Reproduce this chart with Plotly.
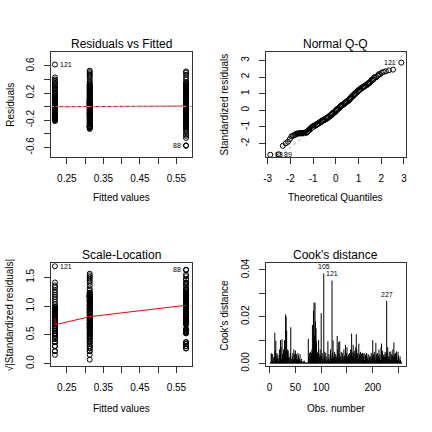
import math
from statistics import NormalDist
import plotly.graph_objects as go

# ---------------- data ----------------
fitted_levels = [0.2174, 0.3126, 0.5763]

resid_A = [-0.21, -0.21, -0.20, -0.20, -0.19, -0.19, -0.18, -0.18, -0.17, -0.17,
           -0.16, -0.16, -0.15, -0.15, -0.14, -0.14, -0.13, -0.13, -0.12, -0.12,
           -0.11, -0.11, -0.10, -0.10, -0.09, -0.09, -0.08, -0.08, -0.07, -0.07,
           -0.06, -0.06, -0.05, -0.05, -0.04, -0.04, -0.03, -0.03, -0.02, -0.01,
           0.005, 0.01, 0.02, 0.03, 0.04, 0.05, 0.06, 0.07, 0.08, 0.09,
           0.10, 0.11, 0.12, 0.13, 0.15, 0.16, 0.18, 0.19, 0.21, 0.23,
           0.25, 0.27, 0.29, 0.31, 0.33, 0.35, 0.38, 0.40, 0.43, 0.62]

resid_B = [-0.33, -0.32, -0.305, -0.30, -0.30, -0.30, -0.30, -0.295, -0.295, -0.29,
           -0.29, -0.29, -0.285, -0.27, -0.26, -0.25, -0.24, -0.23, -0.22, -0.21,
           -0.20, -0.19, -0.18, -0.17, -0.16, -0.15, -0.14, -0.135, -0.13, -0.125,
           -0.12, -0.11, -0.105, -0.10, -0.09, -0.085, -0.08, -0.07, -0.06, -0.05,
           -0.045, -0.04, -0.03, -0.02, -0.015, -0.01, 0.001, 0.005, 0.01, 0.015,
           0.02, 0.025, 0.03, 0.035, 0.04, 0.045, 0.05, 0.055, 0.06, 0.065,
           0.07, 0.075, 0.08, 0.085, 0.09, 0.095, 0.10, 0.105, 0.11, 0.12,
           0.13, 0.14, 0.15, 0.16, 0.17, 0.18, 0.19, 0.20, 0.21, 0.22,
           0.23, 0.24, 0.25, 0.26, 0.27, 0.28, 0.29, 0.30, 0.31, 0.32,
           0.33, 0.35, 0.37, 0.40, 0.43, 0.45, 0.47, 0.49, 0.51, 0.53]

resid_C = [-0.578, -0.572, -0.462, -0.43, -0.41, -0.375, -0.34, -0.325, -0.305, -0.30,
           -0.30, -0.295, -0.29, -0.29, -0.27, -0.26, -0.25, -0.24, -0.23, -0.22,
           -0.21, -0.20, -0.19, -0.18, -0.17, -0.16, -0.15, -0.14, -0.13, -0.125,
           -0.12, -0.115, -0.11, -0.105, -0.10, -0.075, -0.07, -0.065, -0.06, -0.03,
           -0.025, -0.02, -0.015, 0.015, 0.02, 0.025, 0.03, 0.06, 0.065, 0.07,
           0.075, 0.08, 0.10, 0.105, 0.11, 0.115, 0.12, 0.125, 0.13, 0.14,
           0.15, 0.16, 0.17, 0.18, 0.19, 0.20, 0.21, 0.22, 0.23, 0.24,
           0.25, 0.26, 0.27, 0.28, 0.29, 0.30, 0.31, 0.32, 0.33, 0.36,
           0.40, 0.43, 0.47, 0.50, 0.52, 0.35]

resid_se = 0.218

cooks_d = [0.0003, 0.0008, 0.0042, 0.0043, 0.0012, 0.0040, 0.0025, 0.0009, 0.0030, 0.0131,
           0.0055, 0.0098, 0.0030, 0.0045, 0.0020, 0.0038, 0.0010, 0.0025, 0.0060, 0.0035,
           0.0100, 0.0070, 0.0020, 0.0104, 0.0040, 0.0015, 0.0060, 0.0030, 0.0100, 0.0045,
           0.0210, 0.0200, 0.0140, 0.0050, 0.0060, 0.0055, 0.0030, 0.0010, 0.0025, 0.0045,
           0.0155, 0.0020, 0.0010, 0.0030, 0.0045, 0.0015, 0.0060, 0.0040, 0.0020, 0.0055,
           0.0010, 0.0040, 0.0025, 0.0015, 0.0045, 0.0035, 0.0008, 0.0020, 0.0040, 0.0012,
           0.0010, 0.0020, 0.0008, 0.0006, 0.0010, 0.0004, 0.0012, 0.0007, 0.0003, 0.0005,
           0.0002, 0.0004, 0.0003, 0.0006, 0.0105, 0.0030, 0.0045, 0.0020, 0.0050, 0.0035,
           0.0045, 0.0060, 0.0165, 0.0050, 0.0225, 0.0260, 0.0120, 0.0260, 0.0180, 0.0150,
           0.0095, 0.0050, 0.0045, 0.0030, 0.0100, 0.0040, 0.0025, 0.0060, 0.0035, 0.0215,
           0.0030, 0.0045, 0.0020, 0.0010, 0.0385, 0.0030, 0.0050, 0.0020, 0.0045, 0.0010,
           0.0030, 0.0015, 0.0095, 0.0020, 0.0040, 0.0010, 0.0025, 0.0060, 0.0035, 0.0020,
           0.0355, 0.0045, 0.0098, 0.0025, 0.0030, 0.0050, 0.0020, 0.0040, 0.0015, 0.0030,
           0.0118, 0.0060, 0.0025, 0.0092, 0.0040, 0.0095, 0.0030, 0.0020, 0.0050, 0.0015,
           0.0045, 0.0030, 0.0020, 0.0060, 0.0035, 0.0010, 0.0080, 0.0025, 0.0045, 0.0070,
           0.0030, 0.0015, 0.0040, 0.0025, 0.0045, 0.0020, 0.0060, 0.0035, 0.0128, 0.0050,
           0.0030, 0.0080, 0.0045, 0.0020, 0.0055, 0.0040, 0.0070, 0.0125, 0.0060, 0.0035,
           0.0045, 0.0020, 0.0085, 0.0040, 0.0030, 0.0050, 0.0025, 0.0042, 0.0020, 0.0045,
           0.0040, 0.0030, 0.0045, 0.0015, 0.0040, 0.0035, 0.0025, 0.0045, 0.0030, 0.0020,
           0.0040, 0.0015, 0.0035, 0.0025, 0.0010, 0.0030, 0.0045, 0.0020, 0.0035, 0.0100,
           0.0040, 0.0025, 0.0050, 0.0030, 0.0015, 0.0088, 0.0040, 0.0025, 0.0045, 0.0020,
           0.0035, 0.0060, 0.0025, 0.0040, 0.0015, 0.0070, 0.0085, 0.0030, 0.0055, 0.0020,
           0.0035, 0.0040, 0.0025, 0.0050, 0.0030, 0.0045, 0.0268, 0.0040, 0.0070, 0.0030,
           0.0020, 0.0050, 0.0030, 0.0015, 0.0052, 0.0040, 0.0020, 0.0035, 0.0060, 0.0030,
           0.0090, 0.0040, 0.0020, 0.0045, 0.0030, 0.0052, 0.0025, 0.0015, 0.0050, 0.0035,
           0.0020, 0.0010, 0.0030, 0.0015, 0.0008, 0.0004]

label_top = "121"          # largest residual (group A)
labels_low = ["88", "89"]  # two most negative residuals (group C)
cook_ids = [105, 121, 227]

smooth_rvf_y = [-0.002, 0.0, 0.008]          # lowess line, Residuals vs Fitted
smooth_sl_idx = [0, 0, 1, 2]                 # lowess line, Scale-Location
smooth_sl_y = [0.786, 0.674, 0.815, 1.013]
qq_slope, qq_intercept = 1.12, 0.0

# ---------------- derived quantities ----------------
groups = [resid_A, resid_B, resid_C]
fitted_all, resid_all, std_all = [], [], []
for lev, g in zip(fitted_levels, groups):
    h = 1.0 / len(g)
    for r in g:
        fitted_all.append(lev)
        resid_all.append(r)
        std_all.append(r / (resid_se * math.sqrt(1 - h)))
sl_all = [math.sqrt(abs(s)) for s in std_all]
N = len(std_all)
nd = NormalDist()
std_sorted = sorted(std_all)
theo = [nd.inv_cdf((i + 0.5) / N) for i in range(N)]

FONT = "Liberation Sans, Arial, Helvetica, sans-serif"
W = H = 432

def px(x):
    return x / W

def py(y):
    return 1 - y / H

L1, R1 = 49.3, 191.3
L2, R2 = 265.5, 407.0
T1, B1 = 48.0, 155.7
T2, B2 = 264.3, 370.0

fig = go.Figure()
mk = dict(symbol="circle-open", size=5, color="black", line=dict(width=1, color="black"))

# Panel 1
fig.add_trace(go.Scatter(x=fitted_all, y=resid_all, mode="markers", marker=mk,
                         xaxis="x", yaxis="y", hoverinfo="skip"))
fig.add_trace(go.Scatter(x=fitted_levels, y=smooth_rvf_y, mode="lines",
                         line=dict(color="red", width=1), xaxis="x", yaxis="y"))
fig.add_trace(go.Scatter(x=[0.2065, 0.5925], y=[0, 0], mode="lines",
                         line=dict(color="#aaaaaa", width=1, dash="dot"), xaxis="x", yaxis="y"))

# Panel 2
fig.add_trace(go.Scatter(x=theo, y=std_sorted, mode="markers", marker=mk,
                         xaxis="x2", yaxis="y2"))
qx = [-3.09, 3.10]
fig.add_trace(go.Scatter(x=qx, y=[qq_intercept + qq_slope * v for v in qx], mode="lines",
                         line=dict(color="#aaaaaa", width=1, dash="dot"), xaxis="x2", yaxis="y2"))

# Panel 3
fig.add_trace(go.Scatter(x=fitted_all, y=sl_all, mode="markers", marker=mk,
                         xaxis="x3", yaxis="y3"))
fig.add_trace(go.Scatter(x=[fitted_levels[i] for i in smooth_sl_idx], y=smooth_sl_y, mode="lines",
                         line=dict(color="red", width=1), xaxis="x3", yaxis="y3"))

# Panel 4
cx, cy = [], []
for i, d in enumerate(cooks_d):
    cx += [i + 1, i + 1, None]
    cy += [0, d, None]
fig.add_trace(go.Scatter(x=cx, y=cy, mode="lines", line=dict(color="black", width=1),
                         xaxis="x4", yaxis="y4"))

def ax(domain, rng, tickvals, ticktext, anchor, ytype=False):
    d = dict(domain=domain, range=rng, tickvals=tickvals, ticktext=ticktext,
             anchor=anchor, showline=True, linecolor="#333333", linewidth=1, mirror=True,
             ticks="outside", ticklen=6, tickcolor="#333333", tickwidth=1,
             showgrid=False, zeroline=False,
             tickfont=dict(family=FONT, size=10, color="black"), ticklabelstandoff=6)
    if ytype:
        d["tickangle"] = -90
    return d

xd1 = [px(L1), px(R1)]
xd2 = [px(L2), px(R2)]
yd1 = [py(B1), py(T1)]
yd2 = [py(B2), py(T2)]

fx_vals = [0.25, 0.30, 0.35, 0.40, 0.45, 0.50, 0.55]
fx_text = ["0.25", "", "0.35", "", "0.45", "", "0.55"]

fig.update_layout(
    width=W, height=H, margin=dict(l=0, r=0, t=0, b=0),
    paper_bgcolor="white", plot_bgcolor="white", showlegend=False,
    font=dict(family=FONT, color="black"),
    xaxis=ax(xd1, [0.2065, 0.5925], fx_vals, fx_text, "y"),
    yaxis=ax(yd1, [-0.745, 0.807], [-0.6, -0.4, -0.2, 0, 0.2, 0.4, 0.6],
             ["-0.6", "", "-0.2", "", "0.2", "", "0.6"], "x", True),
    xaxis2=ax(xd2, [-3.09, 3.10], [-3, -2, -1, 0, 1, 2, 3],
              ["-3", "-2", "-1", "0", "1", "2", "3"], "y2"),
    yaxis2=ax(yd1, [-2.81, 3.51], [-2, -1, 0, 1, 2, 3],
              ["-2", "-1", "0", "1", "2", "3"], "x2", True),
    xaxis3=ax(xd1, [0.2065, 0.5925], fx_vals, fx_text, "y3"),
    yaxis3=ax(yd2, [-0.05, 1.745], [0, 0.5, 1.0, 1.5], ["0.0", "0.5", "1.0", "1.5"], "x3", True),
    xaxis4=ax(xd2, [-7.7, 264.8], [0, 50, 100, 150, 200, 250],
              ["0", "50", "100", "", "200", ""], "y4"),
    yaxis4=ax(yd2, [-0.00125, 0.0429], [0, 0.01, 0.02, 0.03, 0.04],
              ["0.00", "", "0.02", "", "0.04"], "x4", True),
)

ann = []
def txt(x, y, s, size=12, angle=0):
    ann.append(dict(x=px(x), y=py(y), xref="paper", yref="paper", text=s, showarrow=False,
                    xanchor="center", yanchor="middle", textangle=angle,
                    font=dict(family=FONT, size=size, color="black")))

c1 = (L1 + R1) / 2
c2 = (L2 + R2) / 2
txt(c1, 40, "Residuals vs Fitted")
txt(c2, 40, "Normal Q-Q")
txt(c1, 256, "Scale-Location")
txt(c2, 256, "Cook's distance")
txt(c1, 196.7, "Fitted values", 10)
txt(c2, 196.7, "Theoretical Quantiles", 10)
txt(c1, 412.7, "Fitted values", 10)
txt(c2, 412.7, "Obs. number", 10)
txt(8.3, (T1 + B1) / 2, "Residuals", 10, -90)
txt(224.5, (T1 + B1) / 2, "Standardized residuals", 10, -90)
txt(7.5, (T2 + B2) / 2, "√|Standardized residuals|", 10, -90)
txt(224.5, (T2 + B2) / 2, "Cook's distance", 10, -90)

def lab(xr, yr, x, y, s, anchor, xshift=0, yshift=0, yanchor="middle"):
    ann.append(dict(x=x, y=y, xref=xr, yref=yr, text=s, showarrow=False,
                    xanchor=anchor, yanchor=yanchor, xshift=xshift, yshift=yshift,
                    font=dict(family=FONT, size=7, color="black")))

# point labels
iA_top = max(range(len(resid_A)), key=lambda i: resid_A[i])
iC_low = sorted(range(len(resid_C)), key=lambda i: resid_C[i])[:2]
offA = 0
offC = len(resid_A) + len(resid_B)
lab("x", "y", fitted_levels[0], resid_A[iA_top], label_top, "left", 3)
lab("x", "y", fitted_levels[2], resid_C[iC_low[0]], labels_low[0], "right", -3)
lab("x2", "y2", theo[-1], std_sorted[-1], label_top, "right", -3)
lab("x2", "y2", theo[0], std_sorted[0], labels_low[0], "left", 3)
lab("x2", "y2", theo[1], std_sorted[1], labels_low[1], "left", 3)
lab("x3", "y3", fitted_levels[0], sl_all[offA + iA_top], label_top, "left", 3)
lab("x3", "y3", fitted_levels[2], sl_all[offC + iC_low[0]], labels_low[0], "right", -3)
for k in cook_ids:
    lab("x4", "y4", k, cooks_d[k - 1], str(k), "center", 0, 1, "bottom")

fig.update_layout(annotations=ann)
fig.write_html("out.html", config={"displayModeBar": False},
               post_script="document.body.style.margin='0';document.body.style.overflow='hidden';")
